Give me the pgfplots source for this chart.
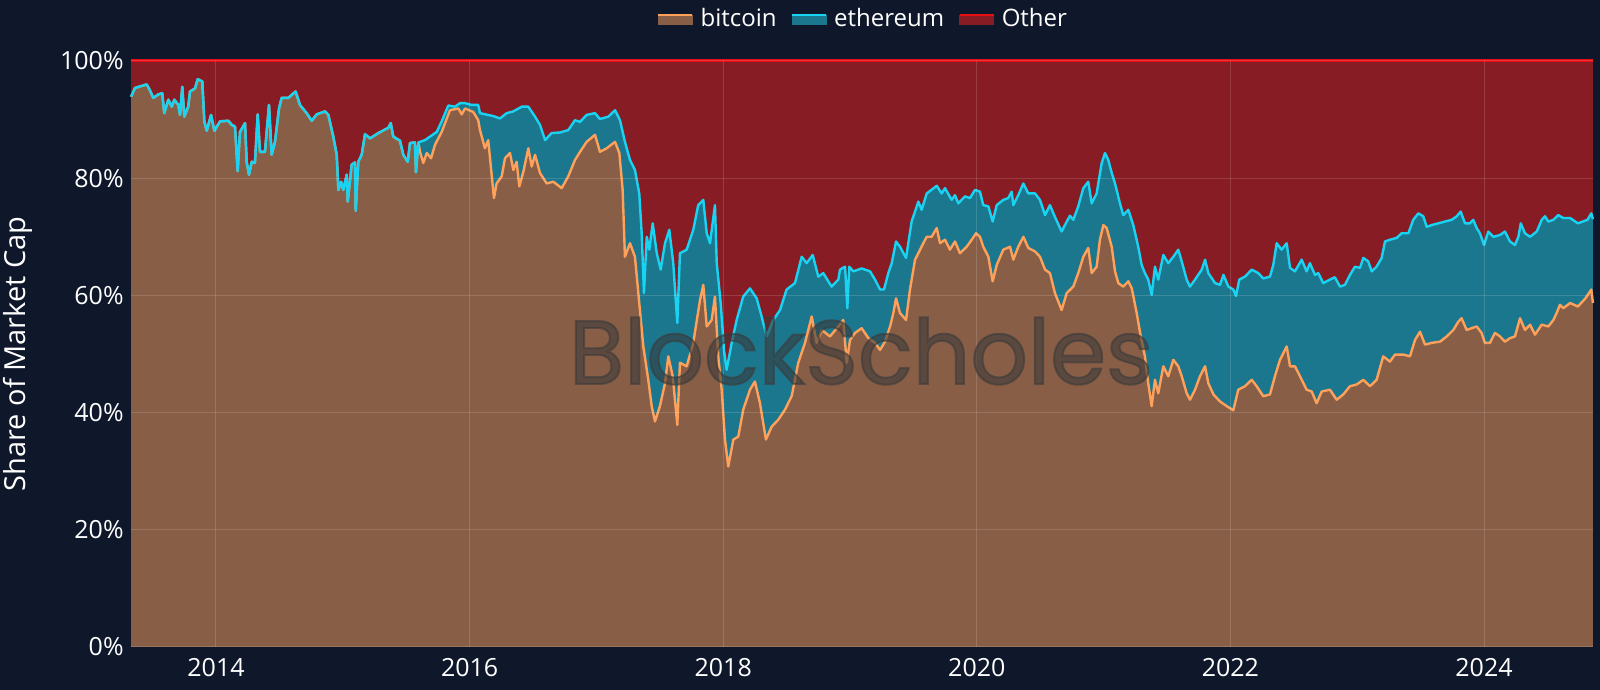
\documentclass[border=0pt]{standalone}
\usepackage{fontspec}
\setmainfont{Open Sans}
\newfontfamily\wmfont[FakeBold=2.2]{Poppins}
\usepackage{pgfplots}
\usepackage{pgfplotstable}
\pgfplotsset{compat=1.18}
\definecolor{bgcol}{RGB}{15,24,43}
\definecolor{brownfill}{RGB}{137,94,70}
\definecolor{tealfill}{RGB}{27,119,142}
\definecolor{redfill}{RGB}{136,28,36}
\definecolor{orangeline}{RGB}{255,161,90}
\definecolor{cyanline}{RGB}{25,211,243}
\definecolor{redline}{RGB}{232,14,22}
\definecolor{wmgray}{RGB}{58,58,58}

\pgfplotstableread{
x y
2013.330 93.9
2013.361 95.4
2013.453 96.0
2013.472 95.3
2013.506 93.7
2013.545 94.3
2013.576 94.5
2013.592 91.1
2013.624 93.4
2013.651 92.2
2013.671 93.4
2013.703 92.5
2013.716 90.8
2013.734 95.6
2013.750 90.5
2013.781 92.2
2013.795 94.8
2013.834 95.3
2013.856 96.9
2013.892 96.5
2013.908 89.7
2013.927 88.1
2013.961 90.8
2013.987 88.1
2014.032 89.7
2014.097 89.8
2014.124 89.1
2014.150 88.8
2014.171 81.2
2014.189 87.9
2014.229 89.4
2014.242 82.8
2014.260 80.6
2014.282 82.8
2014.307 82.6
2014.329 90.9
2014.347 84.5
2014.386 84.5
2014.418 92.5
2014.439 84.0
2014.465 86.2
2014.497 91.9
2014.518 93.7
2014.570 93.7
2014.628 94.8
2014.662 92.5
2014.715 91.1
2014.755 89.8
2014.794 90.9
2014.860 91.4
2014.886 90.8
2014.925 87.1
2014.952 84.0
2014.965 78.0
2014.986 79.4
2015.004 78.0
2015.031 80.6
2015.039 76.0
2015.070 82.3
2015.096 82.7
2015.102 74.4
2015.122 82.8
2015.149 84.0
2015.175 87.5
2015.215 86.8
2015.280 87.7
2015.359 88.6
2015.378 89.4
2015.398 87.1
2015.451 86.4
2015.477 84.0
2015.512 82.8
2015.530 86.0
2015.569 86.1
2015.577 81.0
2015.596 86.1
2015.648 86.5
2015.688 87.1
2015.741 87.9
2015.780 89.7
2015.832 92.4
2015.885 92.2
2015.924 92.8
2015.964 92.8
2016.016 92.5
2016.068 92.5
2016.082 91.1
2016.187 90.6
2016.240 90.2
2016.293 91.1
2016.345 91.4
2016.411 92.2
2016.463 92.2
2016.516 90.5
2016.555 89.1
2016.595 86.5
2016.647 87.7
2016.713 87.8
2016.778 88.2
2016.831 89.9
2016.871 89.6
2016.923 90.8
2016.989 91.1
2017.028 90.1
2017.094 90.5
2017.147 91.6
2017.186 89.9
2017.225 86.2
2017.265 83.1
2017.304 81.4
2017.338 77.4
2017.357 70.6
2017.375 60.4
2017.397 70.0
2017.417 67.8
2017.444 72.3
2017.476 67.2
2017.507 64.4
2017.541 68.9
2017.575 71.2
2017.606 65.5
2017.638 55.3
2017.659 67.2
2017.712 67.8
2017.764 71.2
2017.803 75.4
2017.843 76.3
2017.870 70.6
2017.896 68.9
2017.935 75.4
2017.949 65.5
2017.980 58.7
2018.006 50.7
2018.027 47.3
2018.067 51.9
2018.106 55.8
2018.158 59.8
2018.211 61.2
2018.264 59.5
2018.303 56.4
2018.343 53.0
2018.395 55.8
2018.448 57.5
2018.500 61.0
2018.566 62.1
2018.619 66.6
2018.658 65.5
2018.706 66.9
2018.750 63.2
2018.789 63.8
2018.855 61.5
2018.908 62.7
2018.921 64.4
2018.961 64.9
2018.979 57.8
2018.994 64.9
2019.026 64.1
2019.092 64.6
2019.158 64.1
2019.197 62.7
2019.237 61.0
2019.268 61.0
2019.302 63.8
2019.329 65.5
2019.363 69.2
2019.394 68.3
2019.442 66.4
2019.486 72.6
2019.539 76.0
2019.565 74.6
2019.605 77.4
2019.684 78.7
2019.723 77.4
2019.749 78.3
2019.802 76.3
2019.828 77.1
2019.854 75.7
2019.907 76.9
2019.946 76.6
2019.986 78.0
2020.025 77.7
2020.051 75.4
2020.091 75.2
2020.125 72.6
2020.157 75.4
2020.209 76.3
2020.248 76.6
2020.275 77.7
2020.288 75.4
2020.327 77.1
2020.367 79.1
2020.406 77.4
2020.459 77.4
2020.498 76.3
2020.538 73.7
2020.577 75.4
2020.616 73.4
2020.669 70.9
2020.709 72.6
2020.735 73.6
2020.761 72.9
2020.800 75.2
2020.840 78.3
2020.879 79.4
2020.906 75.7
2020.945 77.4
2020.985 82.6
2021.011 84.3
2021.037 83.1
2021.064 80.9
2021.090 79.1
2021.129 75.7
2021.155 73.7
2021.195 74.6
2021.234 72.0
2021.273 68.3
2021.300 65.2
2021.326 63.8
2021.352 62.7
2021.379 60.1
2021.405 64.9
2021.431 62.7
2021.471 66.9
2021.510 65.5
2021.550 66.6
2021.589 67.8
2021.616 65.8
2021.655 62.7
2021.681 61.5
2021.721 62.7
2021.774 64.4
2021.800 66.1
2021.826 63.8
2021.879 62.1
2021.918 61.8
2021.945 63.5
2021.984 61.5
2022.023 61.0
2022.044 59.9
2022.070 62.7
2022.115 63.2
2022.168 64.4
2022.220 63.8
2022.259 62.9
2022.312 63.2
2022.338 65.2
2022.365 68.9
2022.404 67.8
2022.444 68.9
2022.470 64.7
2022.509 64.1
2022.562 66.1
2022.601 64.1
2022.627 65.5
2022.667 63.5
2022.693 63.8
2022.732 62.1
2022.785 62.7
2022.824 63.1
2022.864 61.5
2022.903 61.8
2022.943 63.5
2022.982 64.9
2023.022 64.7
2023.048 66.4
2023.087 65.8
2023.114 64.1
2023.153 64.9
2023.193 66.4
2023.219 69.2
2023.258 69.5
2023.311 69.8
2023.350 70.6
2023.403 70.6
2023.442 72.9
2023.482 74.0
2023.521 73.5
2023.548 71.7
2023.587 72.0
2023.640 72.3
2023.692 72.6
2023.745 72.9
2023.785 73.5
2023.816 74.3
2023.850 72.3
2023.889 72.3
2023.915 72.9
2023.942 71.5
2023.968 70.6
2024.000 68.6
2024.034 70.9
2024.073 70.0
2024.126 70.3
2024.165 70.9
2024.205 69.2
2024.244 68.6
2024.271 70.0
2024.290 72.3
2024.323 70.6
2024.363 70.0
2024.416 70.9
2024.455 72.9
2024.481 73.5
2024.507 72.6
2024.547 72.9
2024.586 73.7
2024.625 73.2
2024.679 73.2
2024.740 72.3
2024.816 72.9
2024.846 74.0
2024.859 73.0
}\ethtab

\pgfplotstableread{
x y
2013.330 93.9
2013.361 95.4
2013.453 96.0
2013.472 95.3
2013.506 93.7
2013.545 94.3
2013.576 94.5
2013.592 91.1
2013.624 93.4
2013.651 92.2
2013.671 93.4
2013.703 92.5
2013.716 90.8
2013.734 95.6
2013.750 90.5
2013.781 92.2
2013.795 94.8
2013.834 95.3
2013.856 96.9
2013.892 96.5
2013.908 89.7
2013.927 88.1
2013.961 90.8
2013.987 88.1
2014.032 89.7
2014.097 89.8
2014.124 89.1
2014.150 88.8
2014.171 81.2
2014.189 87.9
2014.229 89.4
2014.242 82.8
2014.260 80.6
2014.282 82.8
2014.307 82.6
2014.329 90.9
2014.347 84.5
2014.386 84.5
2014.418 92.5
2014.439 84.0
2014.465 86.2
2014.497 91.9
2014.518 93.7
2014.570 93.7
2014.628 94.8
2014.662 92.5
2014.715 91.1
2014.755 89.8
2014.794 90.9
2014.860 91.4
2014.886 90.8
2014.925 87.1
2014.952 84.0
2014.965 78.0
2014.986 79.4
2015.004 78.0
2015.031 80.6
2015.039 76.0
2015.070 82.3
2015.096 82.7
2015.102 74.4
2015.122 82.8
2015.149 84.0
2015.175 87.5
2015.215 86.8
2015.280 87.7
2015.359 88.6
2015.378 89.4
2015.398 87.1
2015.451 86.4
2015.477 84.0
2015.512 82.8
2015.530 86.0
2015.569 86.1
2015.577 81.0
2015.596 86.1
2015.609 84.5
2015.635 82.6
2015.662 84.3
2015.696 83.4
2015.727 85.7
2015.780 87.9
2015.845 91.6
2015.911 91.9
2015.938 90.9
2015.964 91.9
2016.029 91.3
2016.068 89.9
2016.082 88.2
2016.121 85.1
2016.147 86.5
2016.192 76.6
2016.213 79.1
2016.253 80.3
2016.279 83.4
2016.318 84.3
2016.345 81.4
2016.371 82.8
2016.392 78.6
2016.424 81.1
2016.463 85.1
2016.490 82.0
2016.516 84.0
2016.555 80.9
2016.608 79.1
2016.660 79.4
2016.726 78.3
2016.778 80.3
2016.831 83.1
2016.871 84.5
2016.923 86.2
2016.989 87.4
2017.028 84.5
2017.081 85.1
2017.147 86.2
2017.181 84.3
2017.207 78.0
2017.225 66.6
2017.265 68.9
2017.304 66.6
2017.338 58.7
2017.370 51.3
2017.409 45.6
2017.436 41.1
2017.462 38.5
2017.501 41.1
2017.541 45.0
2017.567 49.6
2017.602 46.2
2017.638 37.9
2017.659 48.5
2017.712 47.9
2017.764 51.9
2017.817 59.2
2017.843 61.8
2017.870 54.7
2017.909 55.8
2017.935 59.8
2017.961 49.6
2017.988 43.9
2018.014 35.4
2018.040 30.8
2018.080 35.4
2018.119 35.9
2018.158 40.5
2018.211 43.9
2018.250 45.3
2018.290 41.6
2018.337 35.4
2018.382 37.6
2018.435 38.8
2018.487 40.5
2018.540 42.8
2018.592 48.5
2018.645 51.9
2018.698 56.4
2018.737 51.9
2018.777 54.1
2018.842 53.0
2018.908 54.7
2018.947 55.8
2018.974 48.5
2019.000 52.4
2019.040 53.6
2019.092 54.4
2019.145 52.7
2019.197 51.9
2019.237 50.7
2019.276 52.1
2019.316 54.7
2019.342 57.0
2019.363 59.5
2019.394 57.0
2019.442 55.8
2019.473 61.0
2019.513 66.1
2019.539 67.2
2019.578 68.9
2019.605 70.0
2019.644 70.0
2019.684 71.5
2019.710 68.9
2019.749 69.5
2019.788 67.8
2019.828 69.2
2019.867 67.2
2019.920 68.3
2019.960 69.5
2019.994 70.6
2020.025 70.0
2020.051 68.3
2020.091 66.6
2020.125 62.4
2020.157 65.2
2020.209 67.8
2020.262 68.3
2020.288 66.1
2020.327 68.3
2020.367 70.0
2020.406 68.1
2020.459 67.5
2020.498 66.6
2020.538 64.4
2020.577 63.8
2020.616 60.4
2020.669 57.5
2020.709 60.4
2020.761 61.5
2020.800 63.8
2020.840 66.6
2020.879 68.1
2020.906 63.8
2020.945 64.9
2020.971 69.5
2020.998 72.0
2021.024 71.5
2021.064 68.3
2021.090 64.1
2021.116 62.1
2021.155 61.5
2021.195 62.4
2021.222 61.2
2021.261 57.0
2021.288 53.6
2021.326 49.6
2021.352 45.0
2021.379 41.1
2021.405 45.6
2021.431 43.3
2021.471 47.9
2021.510 46.2
2021.550 49.0
2021.589 47.9
2021.616 46.2
2021.655 43.3
2021.681 42.2
2021.721 43.9
2021.760 46.2
2021.800 47.9
2021.826 45.0
2021.866 43.1
2021.918 41.9
2021.971 41.1
2022.023 40.4
2022.062 43.9
2022.115 44.5
2022.168 45.6
2022.207 44.5
2022.259 42.8
2022.312 43.1
2022.351 46.2
2022.391 49.0
2022.444 51.3
2022.470 47.9
2022.509 47.9
2022.549 46.2
2022.601 43.9
2022.641 43.6
2022.680 41.6
2022.720 43.6
2022.785 43.9
2022.838 42.2
2022.890 43.1
2022.943 44.5
2022.996 44.8
2023.048 45.6
2023.101 44.5
2023.153 45.6
2023.205 49.6
2023.258 48.7
2023.298 49.9
2023.363 49.9
2023.416 49.6
2023.456 52.4
2023.495 53.8
2023.535 51.6
2023.587 51.9
2023.653 52.1
2023.706 53.0
2023.758 54.1
2023.797 55.5
2023.823 56.1
2023.863 54.1
2023.902 54.4
2023.942 54.7
2023.981 53.6
2024.007 51.9
2024.047 51.9
2024.086 53.6
2024.126 53.0
2024.165 52.1
2024.205 52.7
2024.244 53.0
2024.284 56.1
2024.323 54.1
2024.363 55.0
2024.402 53.3
2024.455 55.0
2024.507 54.7
2024.547 55.8
2024.573 57.0
2024.599 58.4
2024.625 57.8
2024.679 58.7
2024.740 58.1
2024.800 59.5
2024.846 61.0
2024.859 58.7
}\btctab

\begin{document}
\begin{tikzpicture}
\fill[bgcol] (0,0) rectangle (800pt,345pt);
\begin{axis}[
  at={(65.5pt,21.5pt)}, anchor=south west,
  scale only axis, width=731pt, height=293pt,
  xmin=2013.3297, xmax=2024.8596, ymin=0, ymax=100,
  clip=false, axis on top,
  axis line style={draw=none},
  major tick length=0pt,
  xtick={2014,2016,2018,2020,2022,2024},
  xticklabels={2014,2016,2018,2020,2022,2024},
  ytick={0,20,40,60,80,100},
  yticklabels={0\%,20\%,40\%,60\%,80\%,100\%},
  grid=major,
  grid style={white, opacity=0.14, line width=0.5pt},
  xticklabel style={anchor=north, inner sep=0pt, yshift=-5.5pt, font=\fontsize{12.5}{14}\selectfont, text=white},
  yticklabel style={anchor=east, inner sep=0pt, xshift=-3.5pt, font=\fontsize{12.5}{14}\selectfont, text=white},
  legend columns=3,
  legend cell align=left,
  legend style={at={(0.5,1)}, anchor=center, yshift=21pt, draw=none, fill=none,
    font=\fontsize{12}{14}\selectfont, text=white,
    nodes={inner sep=0pt},
    /tikz/column sep=3.5pt,
    /tikz/every even column/.append style={column sep=7pt}},
]
\addplot[fill=redfill, draw=none, forget plot] coordinates {(2013.3297,100) (2024.8596,100)} \closedcycle;
\addplot[fill=tealfill, draw=none, forget plot] table {\ethtab} \closedcycle;
\addplot[fill=brownfill, draw=none, forget plot] table {\btctab} \closedcycle;
\addplot[orangeline, line width=1.2pt, line join=round, forget plot] table {\btctab};
\addplot[cyanline, line width=1.2pt, line join=round, forget plot] table {\ethtab};
\addplot[redline, line width=1.5pt, forget plot] coordinates {(2013.3297,100) (2024.8596,100)};
\addlegendimage{legend image code/.code={\fill[brownfill] (0pt,-2.5pt) rectangle (17pt,2pt); \draw[orangeline, line width=1.3pt] (0pt,2pt) -- (17pt,2pt);}}
\addlegendentry{bitcoin}
\addlegendimage{legend image code/.code={\fill[tealfill] (0pt,-2.5pt) rectangle (17pt,2pt); \draw[cyanline, line width=1.3pt] (0pt,2pt) -- (17pt,2pt);}}
\addlegendentry{ethereum}
\addlegendimage{legend image code/.code={\fill[redfill] (0pt,-2.5pt) rectangle (17pt,2pt); \draw[redline, line width=1.3pt] (0pt,2pt) -- (17pt,2pt);}}
\addlegendentry{Other}
\end{axis}
\node[text=wmgray, text opacity=0.58, inner sep=0pt] at (430.5pt,169.5pt) {\resizebox{292pt}{!}{\wmfont BlockScholes}};
\node[rotate=90, inner sep=0pt, text=white, font=\fontsize{14.5}{17}\selectfont] at (8.75pt,168pt) {Share of Market Cap};
\pgfresetboundingbox
\path[use as bounding box] (0,0) rectangle (800pt,345pt);
\end{tikzpicture}
\end{document}
